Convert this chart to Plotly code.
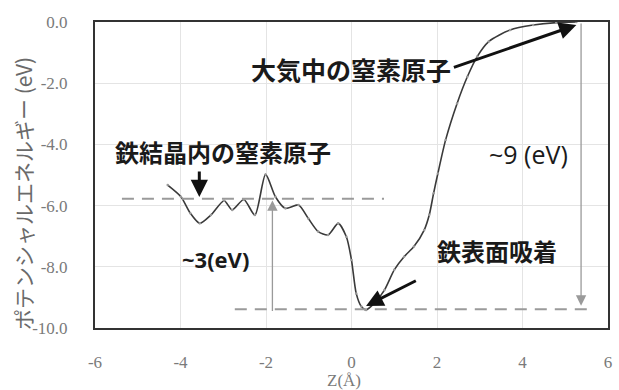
import plotly.graph_objects as go

# Potential energy profile of a nitrogen atom along Z
z_pos = [-4.30, -3.99, -3.77, -3.55, -3.29, -2.98, -2.79, -2.52, -2.26, -2.01,
         -1.78, -1.55, -1.24, -1.01, -0.78, -0.55, -0.31, -0.12, 0.00, 0.11,
         0.23, 0.34, 0.54, 0.77, 1.00, 1.23, 1.46, 1.70, 1.82, 1.92, 2.02,
         2.20, 2.47, 2.71, 2.94, 3.21, 3.71, 4.25, 4.79, 5.26]
energy = [-5.33, -5.71, -6.25, -6.58, -6.31, -5.84, -6.14, -5.80, -6.31, -4.98,
          -5.71, -6.09, -5.98, -6.42, -6.85, -6.96, -6.58, -7.02, -7.78, -8.87,
          -9.30, -9.41, -9.18, -8.76, -8.10, -7.67, -7.34, -6.80, -6.30, -5.60, -4.95,
          -3.86, -2.66, -1.79, -1.13, -0.64, -0.26, -0.10, -0.02, 0.00]

# Reference levels (eV)
bulk_level = -5.78
surface_level = -9.39
gas_level = 0.0

x_tick_vals = [-6, -4, -2, 0, 2, 4, 6]
x_tick_text = ["-6", "-4", "-2", "0", "2", "4", "6"]
y_tick_vals = [0, -2, -4, -6, -8, -10]
y_tick_text = ["0.0", "-2.0", "-4.0", "-6.0", "-8.0", "-10.0"]

grey_text = "#7a7a7a"
serif = "Liberation Serif"
cjk = "Noto Sans CJK JP"

fig = go.Figure()
fig.add_trace(go.Scatter(
    x=z_pos, y=energy, mode="lines+markers",
    line=dict(color="#3a3a3a", width=1.6, shape="spline", smoothing=0.7),
    marker=dict(size=2.5, color="#9a9a9a"),
    showlegend=False, hoverinfo="skip",
))

dash_style = dict(color="#9a9a9a", width=2, dash="12px,8px")
# bulk level line
fig.add_shape(type="line", x0=-5.37, x1=0.76, y0=bulk_level, y1=bulk_level,
              xref="x", yref="y", line=dash_style)
# adsorbed level line
fig.add_shape(type="line", x0=-2.73, x1=5.64, y0=surface_level, y1=surface_level,
              xref="x", yref="y", line=dash_style)

annotations = []

def arrow(x, y, ax, ay, color, width, size):
    annotations.append(dict(
        x=x, y=y, ax=ax, ay=ay, xref="x", yref="y", axref="x", ayref="y",
        text="", showarrow=True, arrowhead=2, arrowsize=size,
        arrowwidth=width, arrowcolor=color,
    ))

# energy differences (grey measuring arrows)
arrow(-1.85, bulk_level - 0.05, -1.85, surface_level - 0.1, "#9a9a9a", 1.3, 1.6)
arrow(5.37, surface_level + 0.12, 5.37, gas_level, "#9a9a9a", 1.3, 1.6)

# pointer arrows
arrow(5.26, -0.10, 2.36, -1.50, "#111111", 3, 1.15)
arrow(-3.56, -5.72, -3.56, -4.84, "#111111", 3, 1.15)
arrow(0.34, -9.28, 1.54, -8.43, "#111111", 3, 1.15)

def label(x, y, text, size, family, bold=True):
    annotations.append(dict(
        x=x, y=y, xref="x", yref="y", showarrow=False,
        text=f"<b>{text}</b>" if bold else text,
        font=dict(family=family, size=size, color="#1a1a1a"),
        xanchor="center", yanchor="middle",
    ))

label(-0.02, -1.54, "大気中の窒素原子", 25, cjk)
label(-3.01, -4.22, "鉄結晶内の窒素原子", 24, cjk)
label(3.40, -7.48, "鉄表面吸着", 24, cjk)
label(-3.19, -7.75, "~3(eV)", 22, "Open Sans")
label(4.14, -4.31, "~9 (eV)", 25, "Open Sans", bold=False)

# axis titles
annotations.append(dict(
    x=-0.139, y=0.44, xref="paper", yref="paper", showarrow=False,
    text="ポテンシャルエネルギー (eV)", textangle=-90,
    font=dict(family=cjk, size=21, color="#6a6a6a"),
    xanchor="center", yanchor="middle",
))
annotations.append(dict(
    x=0.4855, y=-0.17, xref="paper", yref="paper", showarrow=False,
    text="Z(Å)", font=dict(family=serif, size=17, color=grey_text),
    xanchor="center", yanchor="middle",
))

fig.update_layout(
    width=619, height=390,
    margin=dict(l=95, r=7, t=22, b=62),
    font=dict(family=serif, size=17, color=grey_text),
    paper_bgcolor="white", plot_bgcolor="white",
    annotations=annotations,
    xaxis=dict(
        range=[-6, 6], tickvals=x_tick_vals, ticktext=x_tick_text,
        showgrid=True, gridcolor="#e4e4e4", gridwidth=1, zeroline=False,
        showline=True, mirror=True, linecolor="#333333", linewidth=2,
        ticks="", ticklabelstandoff=18,
        tickfont=dict(family=serif, size=17, color=grey_text),
    ),
    yaxis=dict(
        range=[-10, 0], tickvals=y_tick_vals, ticktext=y_tick_text,
        showgrid=True, gridcolor="#e4e4e4", gridwidth=1, zeroline=False,
        showline=True, mirror=True, linecolor="#333333", linewidth=2,
        ticks="", ticklabelstandoff=22,
        tickfont=dict(family=serif, size=17, color=grey_text),
    ),
)

fig.write_html("out.html")
